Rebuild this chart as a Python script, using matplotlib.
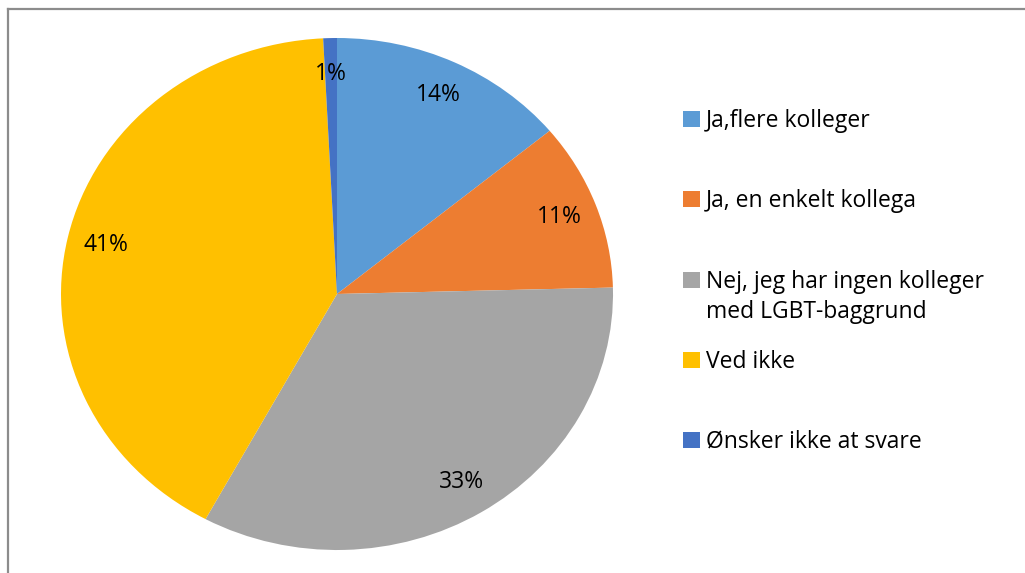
import matplotlib
matplotlib.use("Agg")
import matplotlib.pyplot as plt
from matplotlib.patches import Rectangle
from matplotlib.lines import Line2D

# data (shares; labels show rounded values)
labels = ['Ja,flere kolleger', 'Ja, en enkelt kollega',
          'Nej, jeg har ingen kolleger\nmed LGBT-baggrund', 'Ved ikke',
          'Ønsker ikke at svare']
shares = [14.0, 10.6, 33.3, 41.3, 0.8]
colors = ['#5B9BD5', '#ED7D31', '#A5A5A5', '#FFC000', '#4472C4']

W, H = 1025, 573
plt.rcParams['font.family'] = ['Open Sans', 'DejaVu Sans']
FS = 16.5

fig = plt.figure(figsize=(W / 100, H / 100), dpi=100)

# pie bbox in pixels (slightly elliptic like the original)
left, right, top, bottom = 61, 613, 38, 550
ax = fig.add_axes([left / W, (H - bottom) / H, (right - left) / W, (bottom - top) / H])
wedges, texts, autotexts = ax.pie(
    shares, colors=colors, startangle=90, counterclock=False,
    autopct='%.0f%%', pctdistance=0.86,
    wedgeprops=dict(linewidth=0),
    textprops=dict(fontsize=FS, color='#000000'))
ax.set_aspect('auto')
ax.set_xlim(-1, 1)
ax.set_ylim(-1, 1)

# legend drawn by hand (Excel style spacing)
first_line_y = [119, 199, 280, 360, 440]
line_gap = 30
for lab, col, y in zip(labels, colors, first_line_y):
    fig.add_artist(Rectangle((683 / W, (H - y - 8) / H), 17 / W, 16 / H,
                             facecolor=col, edgecolor='none',
                             transform=fig.transFigure))
    for i, part in enumerate(lab.split('\n')):
        fig.text(706 / W, (H - y - 2 - i * line_gap) / H, part,
                 fontsize=FS, va='center', ha='left', color='#000000')

# outer frame (left and top visible)
frame_col = '#8C8C8C'
fig.add_artist(Line2D([8 / W, 8 / W], [0, (H - 9) / H], color=frame_col, lw=1.6,
                      transform=fig.transFigure))
fig.add_artist(Line2D([8 / W, 1], [(H - 9) / H, (H - 9) / H], color=frame_col, lw=1.6,
                      transform=fig.transFigure))

fig.savefig('out.png', dpi=100)
